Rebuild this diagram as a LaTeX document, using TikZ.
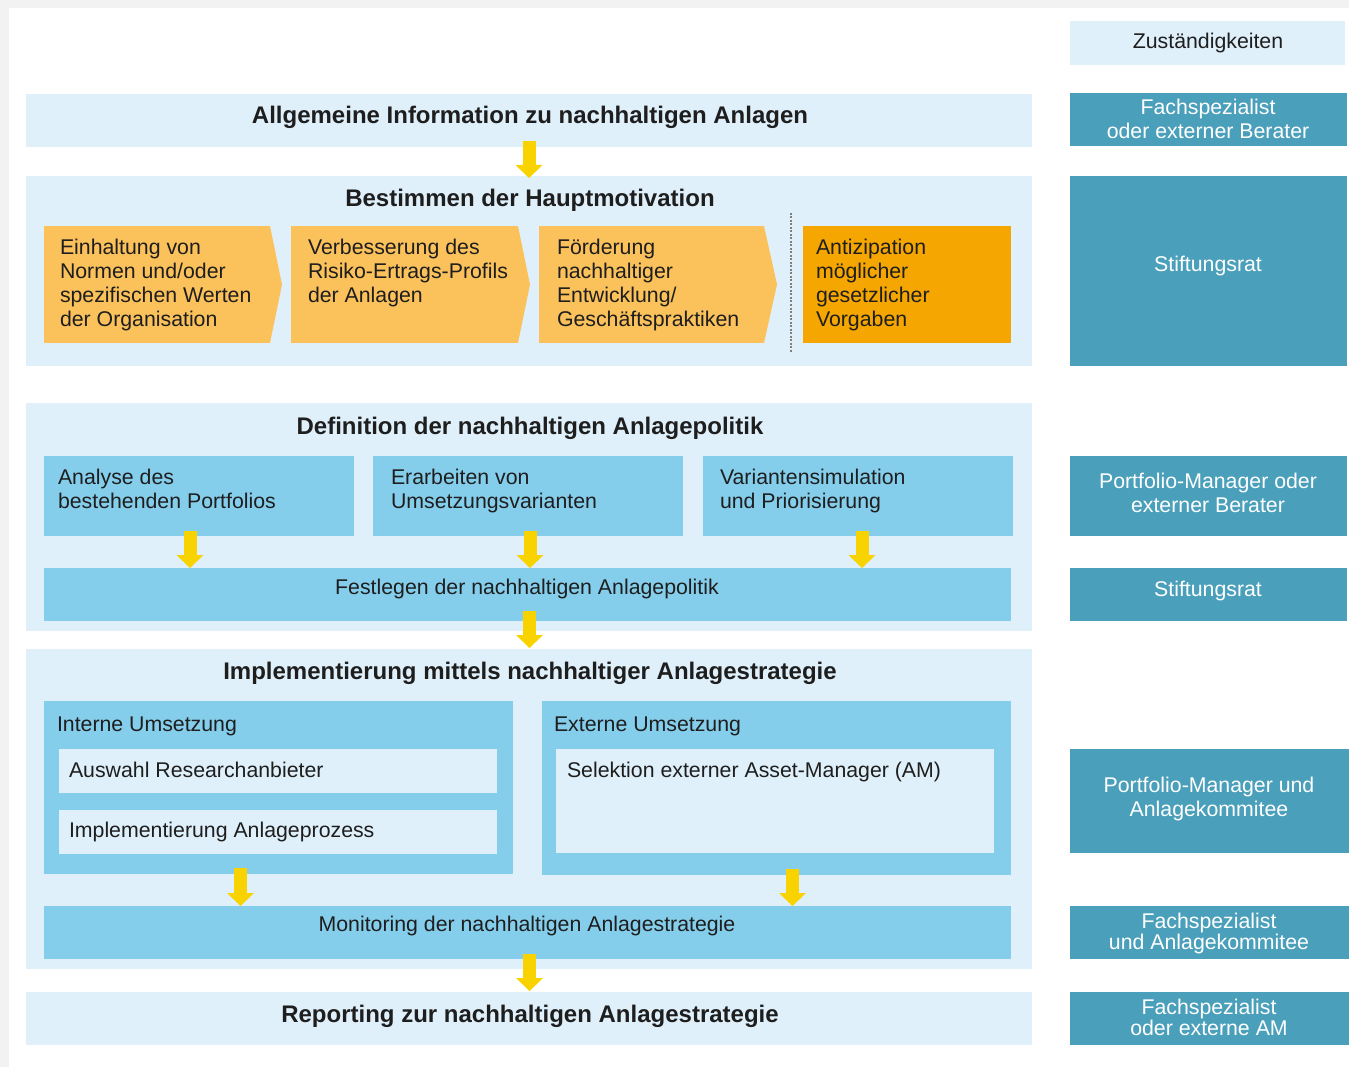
\documentclass[tikz,border=0pt]{standalone}
\usepackage{fontspec}
\setmainfont{Liberation Sans}
\usetikzlibrary{arrows.meta,calc}
\definecolor{bggrey}{HTML}{F2F2F2}
\definecolor{lblue}{HTML}{DFF0FA}
\definecolor{mblue}{HTML}{84CEEC}
\definecolor{rteal}{HTML}{4A9FBB}
\definecolor{lorange}{HTML}{FBC15B}
\definecolor{dorange}{HTML}{F6A600}
\definecolor{yarrowc}{HTML}{F9D300}
\definecolor{txtc}{HTML}{1E1E1E}
\definecolor{sepc}{HTML}{808080}
\begin{document}
\begin{tikzpicture}[x=1pt,y=-1pt,
  box/.style={draw=none, inner sep=0pt, outer sep=0pt, anchor=north west},
  dims/.style 2 args={minimum width=#1pt, minimum height=#2pt},
  txt/.style={inner sep=0pt, outer sep=0pt, text=txtc, font=\fontsize{21.3pt}{24pt}\selectfont},
  ttl/.style={inner sep=0pt, outer sep=0pt, text=txtc, font=\bfseries\fontsize{24pt}{28pt}\selectfont},
  wtxt/.style={inner sep=0pt, outer sep=0pt, text=white, align=center, font=\fontsize{21.3pt}{24pt}\selectfont},
  yarrow/.style={draw=yarrowc, line width=13pt, -{Triangle[width=27pt,length=13pt,line width=0pt]}}
]
\useasboundingbox (0,0) rectangle (1349,1067);
\fill[bggrey] (0,0) rectangle (1349,1067);
\fill[white] (9,8) rectangle (1349,1067);

% left column containers
\node[box, fill=lblue, dims={1006}{53}] (info) at (26,94) {};
\node[box, fill=lblue, dims={1006}{190}] (motiv) at (26,176) {};
\node[box, fill=lblue, dims={1006}{228}] (defi) at (26,403) {};
\node[box, fill=lblue, dims={1006}{320}] (impl) at (26,649) {};
\node[box, fill=lblue, dims={1006}{53}] (repo) at (26,992) {};

% motivation chevrons
\node[box, fill=lorange, dims={226}{117}] (c1) at (44,226) {};
\fill[lorange] (c1.north east) -- ([xshift=12pt]c1.east) -- (c1.south east) -- cycle;
\node[box, fill=lorange, dims={227}{117}] (c2) at (291,226) {};
\fill[lorange] (c2.north east) -- ([xshift=12pt]c2.east) -- (c2.south east) -- cycle;
\node[box, fill=lorange, dims={225}{117}] (c3) at (539,226) {};
\fill[lorange] (c3.north east) -- ([xshift=13pt]c3.east) -- (c3.south east) -- cycle;
\node[box, fill=dorange, dims={208}{117}] (c4) at (803,226) {};
\coordinate (septop) at (791,213);
\coordinate (sepbot) at (791,353);
\draw[sepc, line width=1.6pt, dash pattern=on 2pt off 1.5pt] (septop) -- (sepbot);

% definition boxes
\node[box, fill=mblue, dims={310}{80}] (an1) at (44,456) {};
\node[box, fill=mblue, dims={310}{80}] (an2) at (373,456) {};
\node[box, fill=mblue, dims={310}{80}] (an3) at (703,456) {};
\node[box, fill=mblue, dims={967}{53}] (fest) at (44,568) {};

% implementation boxes
\node[box, fill=mblue, dims={469}{173}] (intern) at (44,701) {};
\node[box, fill=lblue, dims={438}{44}] (auswahl) at (59,749) {};
\node[box, fill=lblue, dims={438}{44}] (implap) at (59,810) {};
\node[box, fill=mblue, dims={469}{174}] (extern) at (542,701) {};
\node[box, fill=lblue, dims={438}{104}] (selekt) at (556,749) {};
\node[box, fill=mblue, dims={967}{53}] (moni) at (44,906) {};

% right column
\node[box, fill=lblue, dims={275}{44}] (zust) at (1070,21) {};
\node[box, fill=rteal, dims={277}{53}] (r1) at (1070,93) {};
\node[box, fill=rteal, dims={277}{190}] (r2) at (1070,176) {};
\node[box, fill=rteal, dims={277}{80}] (r3) at (1070,456) {};
\node[box, fill=rteal, dims={277}{53}] (r4) at (1070,568) {};
\node[box, fill=rteal, dims={279}{104}] (r5) at (1070,749) {};
\node[box, fill=rteal, dims={279}{53}] (r6) at (1070,906) {};
\node[box, fill=rteal, dims={279}{53}] (r7) at (1070,992) {};

% arrows
\draw[yarrow] ([yshift=6pt]info.south) -- ([yshift=-2pt]motiv.north);
\draw[yarrow] ([xshift=-9pt,yshift=5pt]an1.south) -- ([xshift=-9pt]an1.south |- fest.north);
\draw[yarrow] ([xshift=2pt,yshift=5pt]an2.south) -- ([xshift=2pt]an2.south |- fest.north);
\draw[yarrow] ([xshift=4pt,yshift=5pt]an3.south) -- ([xshift=4pt]an3.south |- fest.north);
\draw[yarrow] ([xshift=2pt,yshift=10pt]fest.south) -- ([xshift=2pt,yshift=1pt]fest.south |- impl.north);
\draw[yarrow] ([xshift=-38pt,yshift=6pt]intern.south) -- ([xshift=-38pt]intern.south |- moni.north);
\draw[yarrow] ([xshift=16pt,yshift=6pt]extern.south) -- ([xshift=16pt]extern.south |- moni.north);
\draw[yarrow] ([xshift=2pt,yshift=5pt]moni.south) -- ([xshift=2pt,yshift=1pt]moni.south |- repo.north);

% titles
\node[ttl, anchor=base] (tinfo) at (530,124) {Allgemeine Information zu nachhaltigen Anlagen};
\node[ttl, anchor=base] (tmotiv) at (530,207) {Bestimmen der Hauptmotivation};
\node[ttl, anchor=base] (tdefi) at (530,434) {Definition der nachhaltigen Anlagepolitik};
\node[ttl, anchor=base] (timpl) at (530,679) {Implementierung mittels nachhaltiger Anlagestrategie};
\node[ttl, anchor=base] (trepo) at (530,1022) {Reporting zur nachhaltigen Anlagestrategie};

% chevron texts
\node[txt, align=left, anchor=west] (tc1) at (60,284.5) {Einhaltung von\\Normen und/oder\\spezifischen Werten\\der Organisation};
\node[txt, align=left, anchor=west] (tc2) at (308,272.6) {Verbesserung des\\Risiko-Ertrags-Profils\\der Anlagen};
\node[txt, align=left, anchor=west] (tc3) at (557,284.5) {Förderung\\nachhaltiger\\Entwicklung/\\Geschäftspraktiken};
\node[txt, align=left, anchor=west] (tc4) at (816,284.5) {Antizipation\\möglicher\\gesetzlicher\\Vorgaben};

% definition texts
\node[txt, align=left, anchor=west] (tan1) at (58,489) {Analyse des\\bestehenden Portfolios};
\node[txt, align=left, anchor=west] (tan2) at (391,491) {Erarbeiten von\\Umsetzungsvarianten};
\node[txt, align=left, anchor=west] (tan3) at (720,491) {Variantensimulation\\und Priorisierung};
\node[txt, anchor=base] (tfest) at (527,594.5) {Festlegen der nachhaltigen Anlagepolitik};

% implementation texts
\node[txt, anchor=base west] (tintern) at (57,731) {Interne Umsetzung};
\node[txt, anchor=base west] (tauswahl) at (69,777) {Auswahl Researchanbieter};
\node[txt, anchor=base west] (timplap) at (69,837) {Implementierung Anlageprozess};
\node[txt, anchor=base west] (textern) at (554,731) {Externe Umsetzung};
\node[txt, anchor=base west] (tselekt) at (567,777) {Selektion externer Asset-Manager (AM)};
\node[txt, anchor=base] (tmoni) at (527,931) {Monitoring der nachhaltigen Anlagestrategie};

% right column texts
\node[txt, anchor=base] (tzust) at (1208,49) {Zuständigkeiten};
\node[wtxt] (tr1) at (1208,118.5) {Fachspezialist\\oder externer Berater};
\node[wtxt, anchor=base] (tr2) at (1208,271.5) {Stiftungsrat};
\node[wtxt] (tr3) at (1208,493) {Portfolio-Manager oder\\externer Berater};
\node[wtxt, anchor=base] (tr4) at (1208,596) {Stiftungsrat};
\node[wtxt] (tr5) at (1209,799) {Portfolio-Manager und\\Anlagekommitee};
\node[wtxt, font=\fontsize{21.3pt}{21pt}\selectfont] (tr6) at (1209,933.5) {Fachspezialist\\und Anlagekommitee};
\node[wtxt, font=\fontsize{21.3pt}{21pt}\selectfont] (tr7) at (1209,1017) {Fachspezialist\\oder externe AM};
\end{tikzpicture}
\end{document}
